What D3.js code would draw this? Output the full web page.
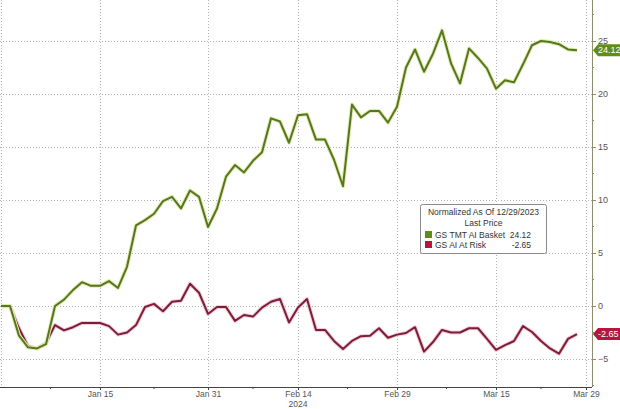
<!DOCTYPE html>
<html>
<head>
<meta charset="utf-8">
<script src="https://cdn.jsdelivr.net/npm/d3@7"></script>
<style>
  html, body { margin: 0; padding: 0; background: #fff; }
  svg { display: block; }
  text { font-family: "Liberation Sans", Arial, sans-serif; }
</style>
</head>
<body>
<svg id="chart" width="620" height="409"></svg>
<script>
// Trading days (weekdays) on the axis; 2024-03-29 is the last axis slot (no data)
const dates = [
  "2023-12-29",
  "2024-01-01","2024-01-02","2024-01-03","2024-01-04","2024-01-05",
  "2024-01-08","2024-01-09","2024-01-10","2024-01-11","2024-01-12",
  "2024-01-15","2024-01-16","2024-01-17","2024-01-18","2024-01-19",
  "2024-01-22","2024-01-23","2024-01-24","2024-01-25","2024-01-26",
  "2024-01-29","2024-01-30","2024-01-31","2024-02-01","2024-02-02",
  "2024-02-05","2024-02-06","2024-02-07","2024-02-08","2024-02-09",
  "2024-02-12","2024-02-13","2024-02-14","2024-02-15","2024-02-16",
  "2024-02-19","2024-02-20","2024-02-21","2024-02-22","2024-02-23",
  "2024-02-26","2024-02-27","2024-02-28","2024-02-29","2024-03-01",
  "2024-03-04","2024-03-05","2024-03-06","2024-03-07","2024-03-08",
  "2024-03-11","2024-03-12","2024-03-13","2024-03-14","2024-03-15",
  "2024-03-18","2024-03-19","2024-03-20","2024-03-21","2024-03-22",
  "2024-03-25","2024-03-26","2024-03-27","2024-03-28","2024-03-29"
];

const tmtBasket = [
  0, 0, -2.8, -3.9, -4.0, -3.6, 0.0, 0.6, 1.5, 2.25,
  1.9, 1.9, 2.35, 1.7, 3.7, 7.6, 8.1, 8.7, 9.9, 10.3,
  9.2, 10.9, 10.3, 7.45, 9.2, 12.2, 13.3, 12.6, 13.7, 14.5,
  17.7, 17.4, 15.4, 18.0, 18.1, 15.7, 15.7, 13.8, 11.3, 19.0,
  17.8, 18.4, 18.4, 17.3, 18.8, 22.5, 24.2, 22.1, 23.8, 26.0,
  22.9, 21.0, 24.3, 23.4, 22.4, 20.5, 21.3, 21.1, 22.8, 24.6,
  25.0, 24.9, 24.7, 24.2, 24.12
];

const aiAtRisk = [
  0, 0, -2.1, -3.8, -4.0, -3.5, -1.8, -2.3, -2.0, -1.6,
  -1.6, -1.6, -1.9, -2.7, -2.5, -1.8, -0.1, 0.2, -0.5, 0.4,
  0.5, 2.1, 1.25, -0.75, -0.1, -0.1, -1.4, -0.85, -1.0, -0.15,
  0.4, 0.66, -1.55, -0.15, 0.66, -2.26, -2.26, -3.3, -4.06, -3.3,
  -2.85, -2.8, -2.1, -3.0, -2.7, -2.55, -2.0, -4.3, -3.4, -2.26,
  -2.5, -2.5, -2.1, -2.1, -3.1, -4.15, -3.7, -3.3, -1.9, -2.45,
  -3.3, -4.0, -4.5, -3.1, -2.65
];

const seriesNames = ["GS TMT AI Basket", "GS AI At Risk"];
const lastValues = ["24.12", "-2.65"];
const legendTitle = ["Normalized As Of 12/29/2023", "Last Price"];

const xTickDates = ["2024-01-15","2024-01-31","2024-02-14","2024-02-29","2024-03-15","2024-03-29"];
const xTickLabels = ["Jan 15","Jan 31","Feb 14","Feb 29","Mar 15","Mar 29"];
const yearLabel = "2024";
const yTicks = [-5, 0, 5, 10, 15, 20, 25];
const yMinorTicks = [-7.5, -2.5, 2.5, 7.5, 12.5, 17.5, 22.5, 27.5];

const colors = { green: "#56761f", greenHalo: "#e3ecb4", red: "#7e1d3a", redHalo: "#f2cdd6",
                 greenTag: "#5f8c1b", redTag: "#b3173d" };

const svg = d3.select("#chart");
const plotRight = 592, plotBottom = 387, plotTop = 0, plotLeft = 0;

const x = d3.scalePoint().domain(dates).range([1, 586]);
const y = d3.scaleLinear().domain([-5, 25]).range([359, 41]);

// grid
const grid = svg.append("g").attr("stroke", "#b0b0b0").attr("stroke-width", 1).attr("stroke-dasharray", "1,2");
yTicks.forEach(v => {
  grid.append("line").attr("x1", plotLeft).attr("x2", plotRight)
    .attr("y1", Math.round(y(v)) + 0.5).attr("y2", Math.round(y(v)) + 0.5);
});
[dates[0]].concat(xTickDates).forEach(d => {
  const xv = Math.round(x(d)) + 0.5;
  grid.append("line").attr("x1", xv).attr("x2", xv).attr("y1", plotTop).attr("y2", plotBottom);
});

// lines
const line = d3.line().x((d, i) => x(dates[i])).y(d => y(d)).curve(d3.curveLinear);
function drawSeries(vals, halo, col) {
  svg.append("path").datum(vals).attr("d", line).attr("fill", "none")
    .attr("stroke", halo).attr("stroke-width", 4).attr("stroke-linejoin", "round");
  svg.append("path").datum(vals).attr("d", line).attr("fill", "none")
    .attr("stroke", col).attr("stroke-width", 2).attr("stroke-linejoin", "round");
}
drawSeries(aiAtRisk, colors.redHalo, colors.red);
drawSeries(tmtBasket, colors.greenHalo, colors.green);

// x axis
const xAxis = d3.axisBottom(x).tickValues(xTickDates)
  .tickFormat(d => xTickLabels[xTickDates.indexOf(d)]).tickSize(3).tickPadding(1);
const gx = svg.append("g").attr("transform", `translate(0,${plotBottom})`).call(xAxis);
gx.select(".domain").attr("d", `M0,0.5H${plotRight}`).attr("stroke", "#444");
gx.selectAll(".tick line").attr("stroke", "#444");
gx.selectAll(".tick text").attr("fill", "#555").attr("font-size", 8.5);
// minor x ticks at midpoints between labelled dates
const tickPos = [x(dates[0])].concat(xTickDates.map(d => x(d)));
for (let i = 0; i < tickPos.length - 1; i++) {
  const mx = (tickPos[i] + tickPos[i + 1]) / 2;
  gx.append("line").attr("x1", mx).attr("x2", mx).attr("y1", 0).attr("y2", 2).attr("stroke", "#444");
}
gx.append("text").attr("x", x("2024-02-14")).attr("y", 14).attr("text-anchor", "middle")
  .attr("fill", "#555").attr("font-size", 8.5).attr("dy", "0.71em").text(yearLabel);

// right y axis
const yAxis = d3.axisRight(y).tickValues(yTicks).tickSize(4).tickPadding(2);
const gy = svg.append("g").attr("transform", `translate(${plotRight},0)`).call(yAxis);
gy.select(".domain").attr("d", `M0.5,${plotTop}V${plotBottom}`).attr("stroke", "#8c8c6e");
gy.selectAll(".tick line").attr("stroke", "#8c8c6e");
gy.selectAll(".tick text").attr("fill", "#555").attr("font-size", 9);
yMinorTicks.forEach(v => {
  gy.append("line").attr("x1", 0).attr("x2", 2).attr("y1", y(v)).attr("y2", y(v)).attr("stroke", "#8c8c6e");
});

// last value tags
function tag(value, label, fill) {
  const cy = y(value);
  const g = svg.append("g");
  g.append("path").attr("d", `M${plotRight + 1},${cy} L${plotRight + 6},${cy - 6} H620 V${cy + 6} H${plotRight + 6} Z`)
    .attr("fill", fill);
  g.append("text").attr("x", plotRight + 6).attr("y", cy).attr("dy", "0.35em")
    .attr("fill", "#fff").attr("font-size", 9).text(label);
}
tag(tmtBasket[tmtBasket.length - 1], lastValues[0], colors.greenTag);
tag(aiAtRisk[aiAtRisk.length - 1], lastValues[1], colors.redTag);

// legend
const lg = svg.append("g").attr("transform", "translate(420,204)");
lg.append("rect").attr("x", 0.5).attr("y", 0.5).attr("width", 126).attr("height", 49).attr("rx", 2)
  .attr("fill", "#fff").attr("stroke", "#8a8a8a");
lg.append("text").attr("x", 63.5).attr("y", 11).attr("text-anchor", "middle").attr("font-size", 8.5)
  .attr("fill", "#333").text(legendTitle[0]);
lg.append("text").attr("x", 63.5).attr("y", 22).attr("text-anchor", "middle").attr("font-size", 8.5)
  .attr("fill", "#333").text(legendTitle[1]);
[[colors.greenTag, 0], [colors.redTag, 1]].forEach(([c, i]) => {
  const yy = 31 + i * 10;
  lg.append("rect").attr("x", 5).attr("y", yy - 4).attr("width", 7).attr("height", 7).attr("fill", c);
  lg.append("text").attr("x", 15).attr("y", yy).attr("dy", "0.35em").attr("font-size", 8.5)
    .attr("fill", "#333").text(seriesNames[i]);
  lg.append("text").attr("x", 111).attr("y", yy).attr("dy", "0.35em").attr("font-size", 8.5)
    .attr("text-anchor", "end").attr("fill", "#333").text(lastValues[i]);
});
</script>
</body>
</html>
